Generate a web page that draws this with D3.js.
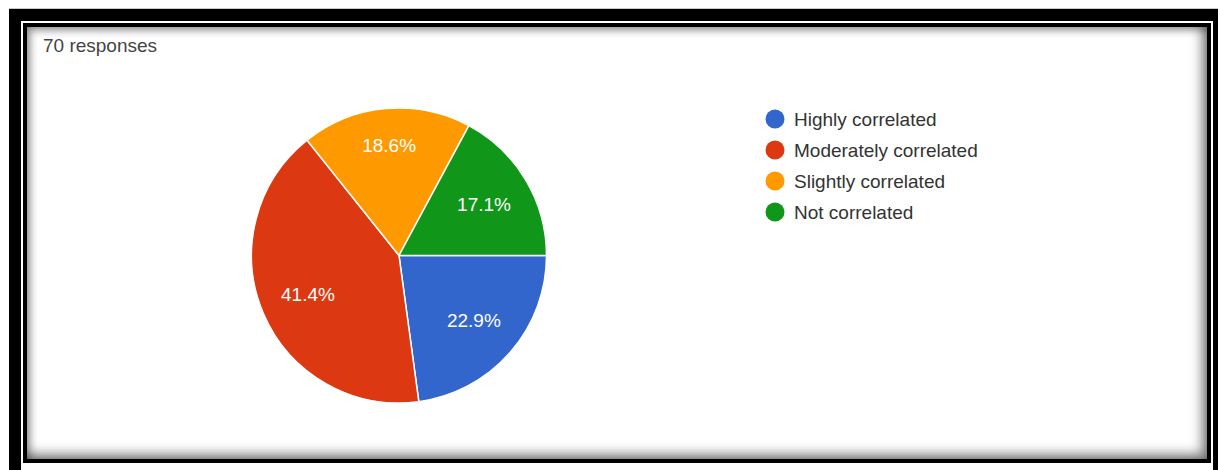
<!DOCTYPE html>
<html>
<head>
<meta charset="utf-8">
<script src="https://cdn.jsdelivr.net/npm/d3@7"></script>
<style>
  html, body { margin: 0; padding: 0; background: #fff; width: 1218px; height: 470px; overflow: hidden; }
  .gline { position: absolute; left: 9px; top: 8px; width: 1209px; height: 1px; background: #c8c8c8; }
  .outer { position: absolute; left: 9px; top: 9px; width: 1209px; height: 461px; background: #000; }
  .gap { position: absolute; left: 21px; top: 21px; width: 1192px; height: 449px; background: #fff; }
  .inner { position: absolute; left: 23px; top: 23px; width: 1188px; height: 440px; background: #000; }
  .content { position: absolute; left: 27px; top: 27px; width: 1180px; height: 432px; background: #fff;
    box-shadow: inset -5px -5px 12px rgba(0,0,0,0.5), inset 3px 3px 9px rgba(0,0,0,0.4); }
  svg { position: absolute; left: 0; top: 0; }
</style>
</head>
<body>
<div class="gline"></div>
<div class="outer"></div>
<div class="gap"></div>
<div class="inner"></div>
<div class="content"></div>
<svg id="chart" width="1218" height="470"></svg>
<script>
const title = "70 responses";
const categories = ["Highly correlated", "Moderately correlated", "Slightly correlated", "Not correlated"];
const counts = [16, 29, 13, 12];
const colors = ["#3366cc", "#dc3912", "#ff9900", "#109618"];

const svg = d3.select("#chart");
const font = "'Liberation Sans', Arial, sans-serif";

svg.append("text")
  .attr("x", 43).attr("y", 52)
  .attr("font-family", font).attr("font-size", 19)
  .attr("fill", "#444")
  .text(title);

const cx = 399, cy = 255.5, r = 147.5;
const total = d3.sum(counts);
const data = categories.map((c, i) => ({ name: c, value: counts[i], color: colors[i] }));

const pie = d3.pie().value(d => d.value).sort(null)
  .startAngle(Math.PI / 2).endAngle(Math.PI / 2 + 2 * Math.PI);
const arcs = pie(data);
const arc = d3.arc().innerRadius(0).outerRadius(r);

const g = svg.append("g").attr("transform", `translate(${cx},${cy})`);
g.selectAll("path").data(arcs).join("path")
  .attr("d", arc)
  .attr("fill", d => d.data.color)
  .attr("stroke", "#fff").attr("stroke-width", 1.5);

g.selectAll("text.lbl").data(arcs).join("text")
  .attr("class", "lbl")
  .each(function(d) {
    const mid = (d.startAngle + d.endAngle) / 2;
    const lr = 99 + 12 * Math.pow(Math.cos(mid), 8);
    d3.select(this)
      .attr("x", lr * Math.sin(mid))
      .attr("y", -lr * Math.cos(mid));
  })
  .attr("text-anchor", "middle").attr("dominant-baseline", "central")
  .attr("font-family", font).attr("font-size", 19).attr("fill", "#fff")
  .text(d => (d.data.value / total * 100).toFixed(1) + "%");

const legend = svg.append("g").attr("transform", "translate(775,119)");
const rows = legend.selectAll("g").data(data).join("g")
  .attr("transform", (d, i) => `translate(0,${i * 31})`);
rows.append("circle").attr("r", 9.5).attr("fill", d => d.color);
rows.append("text")
  .attr("x", 19).attr("y", 0).attr("dominant-baseline", "central")
  .attr("font-family", font).attr("font-size", 19).attr("fill", "#333")
  .text(d => d.name);
</script>
</body>
</html>
